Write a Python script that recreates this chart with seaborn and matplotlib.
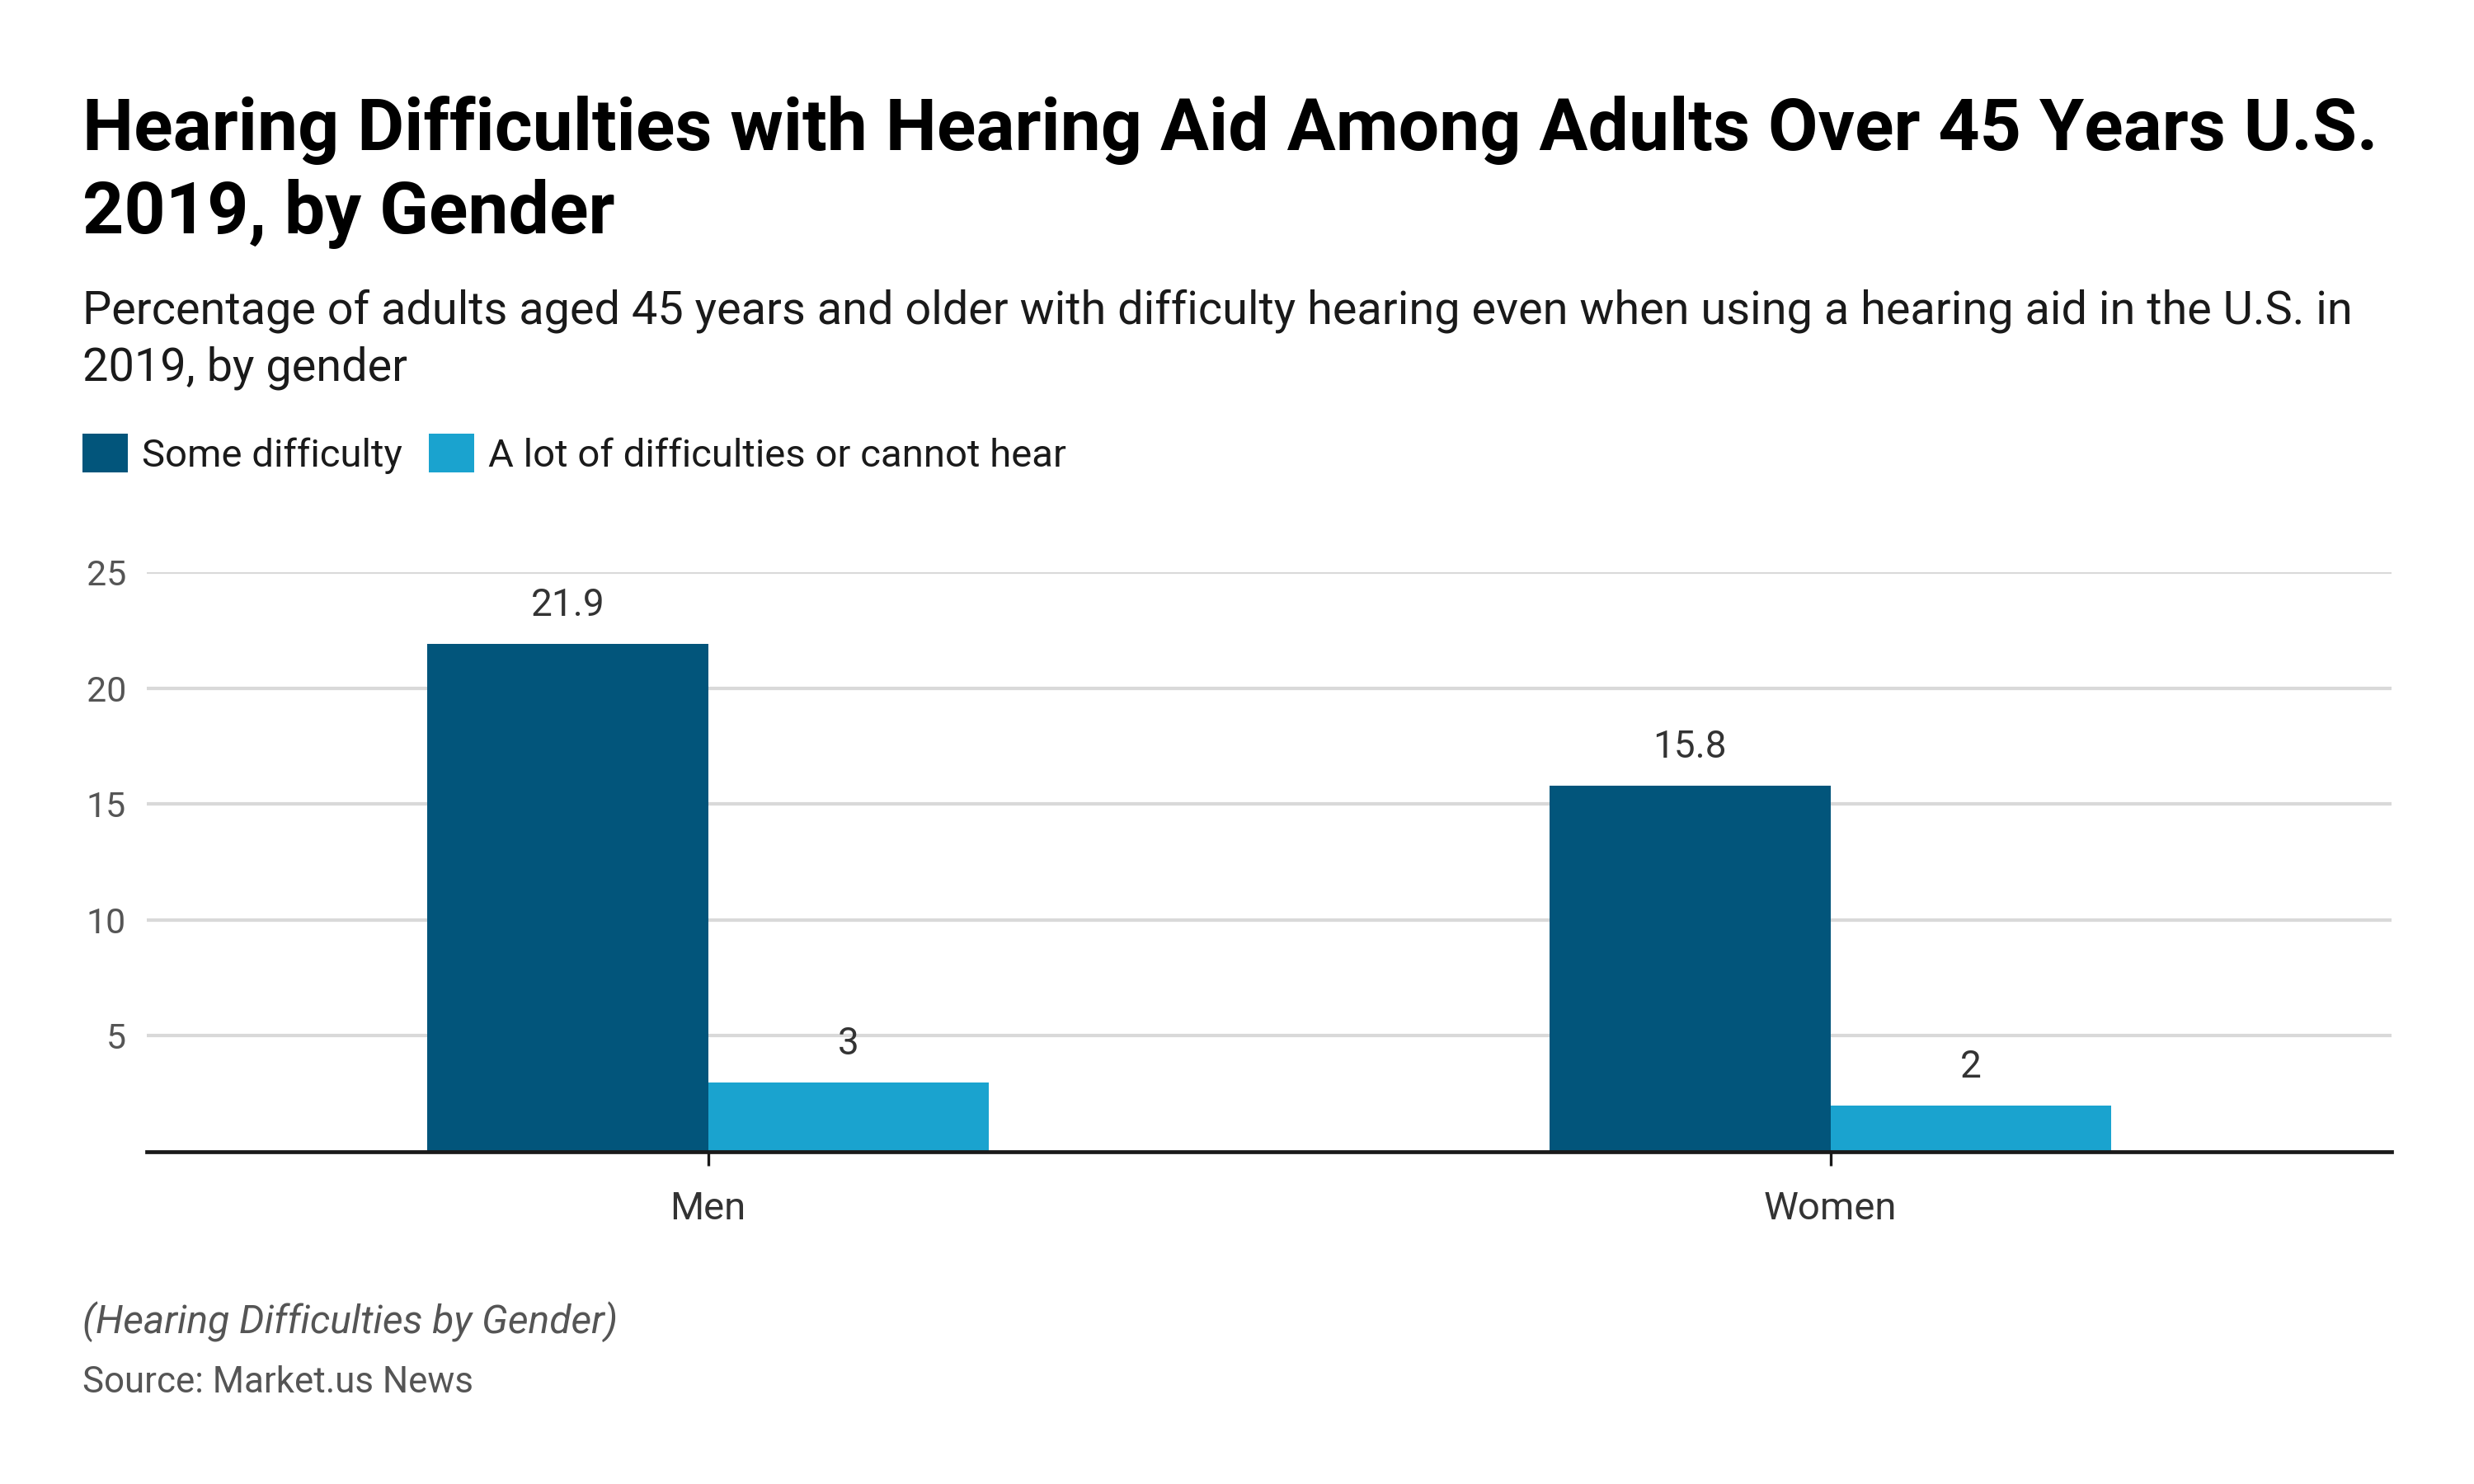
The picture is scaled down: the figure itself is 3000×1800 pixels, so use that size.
import matplotlib
matplotlib.use("Agg")
import matplotlib.pyplot as plt
import seaborn as sns
import pandas as pd
from matplotlib.patches import Patch

# ---- data ----
genders = ["Men", "Women"]
series_names = ["Some difficulty", "A lot of difficulties or cannot hear"]
some_difficulty = [21.9, 15.8]
a_lot = [3, 2]
value_labels_some = ["21.9", "15.8"]
value_labels_alot = ["3", "2"]
y_ticks = [5, 10, 15, 20, 25]

title_lines = ["Hearing Difficulties with Hearing Aid Among Adults Over 45 Years U.S.",
               "2019, by Gender"]
subtitle_lines = ["Percentage of adults aged 45 years and older with difficulty hearing even when using a hearing aid in the U.S. in",
                  "2019, by gender"]
footnote = "(Hearing Difficulties by Gender)"
source = "Source: Market.us News"

colors = ["#02557B", "#1AA3CF"]

df = pd.DataFrame({
    "gender": genders * 2,
    "series": [series_names[0]] * 2 + [series_names[1]] * 2,
    "value": some_difficulty + a_lot,
})

sns.set_theme(style="white")
plt.rcParams["font.family"] = ["Roboto", "DejaVu Sans"]

DPI = 200
fig = plt.figure(figsize=(15, 9), dpi=DPI)
W, H = 3000, 1800
ax = fig.add_axes([178 / W, 1 - 1397 / H, (2900 - 178) / W, (1397 - 694) / H])

sns.barplot(data=df, x="gender", y="value", hue="series", order=genders,
            hue_order=series_names, palette=colors, width=0.5, ax=ax,
            saturation=1, edgecolor="none", linewidth=0, legend=False)

ax.set_xlim(-0.5, 1.5)
ax.set_ylim(0, 25)
ax.set_yticks(y_ticks)
ax.set_xlabel("")
ax.set_ylabel("")
ax.grid(axis="y", color="#d9d9d9", linewidth=1.5)
ax.grid(axis="x", visible=False)
ax.set_axisbelow(True)
for s in ["top", "right", "left"]:
    ax.spines[s].set_visible(False)
ax.spines["bottom"].set_color("#1a1a1a")
ax.spines["bottom"].set_linewidth(1.7)
ax.tick_params(axis="y", length=0, pad=9, labelsize=15.5, labelcolor="#555555")
ax.tick_params(axis="x", length=6, width=1.2, color="#1a1a1a", pad=11,
               labelsize=17, labelcolor="#333333", bottom=True, direction="out")

for cont, labs in zip(ax.containers, [value_labels_some, value_labels_alot]):
    ax.bar_label(cont, labels=labs, padding=9, fontsize=16.5, color="#333333")

# legend
handles = [Patch(facecolor=c, edgecolor="none") for c in colors]
fig.legend(handles, series_names, loc="upper left",
           bbox_to_anchor=(100 / W, 1 - 526 / H), ncol=2, frameon=False,
           fontsize=17, handlelength=1.17, handleheight=1.17,
           handletextpad=0.36, columnspacing=0.68, borderpad=0,
           borderaxespad=0, labelcolor="#1a1a1a")

# titles
x0 = 100 / W
fig.text(x0, 1 - 182 / H, title_lines[0], fontsize=31.6, fontweight="bold",
         color="#000000", va="baseline", ha="left")
fig.text(x0, 1 - 283 / H, title_lines[1], fontsize=31.6, fontweight="bold",
         color="#000000", va="baseline", ha="left")
fig.text(x0, 1 - 392 / H, subtitle_lines[0], fontsize=20.1,
         color="#1a1a1a", va="baseline", ha="left")
fig.text(x0, 1 - 461 / H, subtitle_lines[1], fontsize=20.1,
         color="#1a1a1a", va="baseline", ha="left")
fig.text(x0, 1 - 1617 / H, footnote, fontsize=17.3, style="italic",
         color="#555555", va="baseline", ha="left")
fig.text(x0, 1 - 1689 / H, source, fontsize=15.8,
         color="#555555", va="baseline", ha="left")

fig.savefig("out.png", dpi=DPI, facecolor="white")
